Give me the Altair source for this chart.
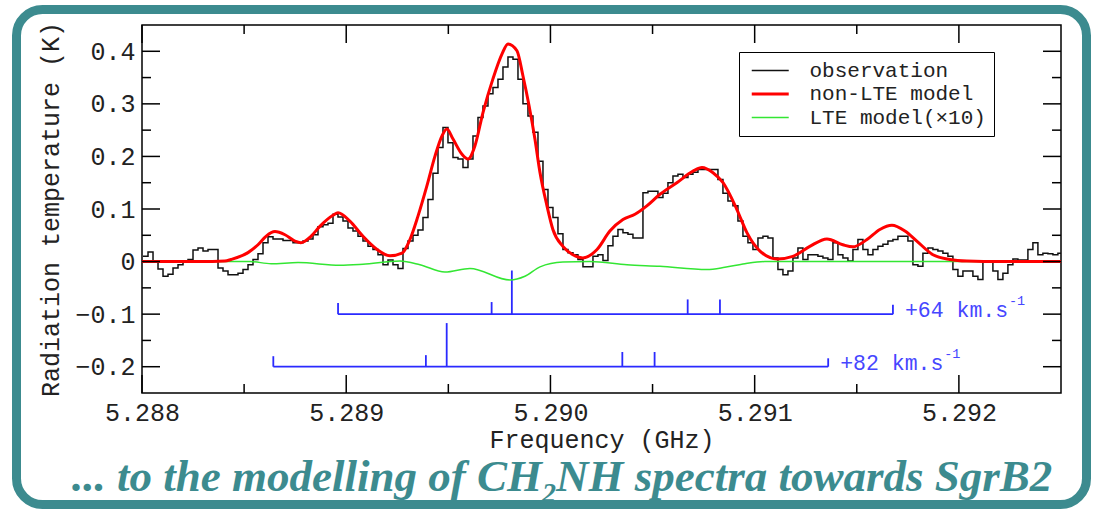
import altair as alt
import pandas as pd

# ---------------- data ----------------
FREQ_START = 5.288005          # GHz, left edge of first channel
CHANNEL_WIDTH = 0.00002448     # GHz
OBS = [0.010, 0.018, 0.001, -0.014, -0.028, -0.024, -0.012, -0.006, 0.001, 0.004,
       0.022, 0.026, 0.020, 0.023, 0.023, -0.012, -0.018, -0.025, -0.025, -0.022,
       -0.015, -0.006, 0.004, 0.015, 0.036, 0.047, 0.043, 0.043, 0.040, 0.040,
       0.036, 0.036, 0.039, 0.043, 0.051, 0.066, 0.070, 0.073, 0.090, 0.085,
       0.077, 0.064, 0.058, 0.048, 0.039, 0.029, 0.023, 0.013, -0.006, 0.003,
       -0.006, -0.013, 0.025, 0.039, 0.050, 0.060, 0.084, 0.118, 0.168, 0.217,
       0.255, 0.226, 0.198, 0.195, 0.179, 0.195, 0.239, 0.274, 0.296, 0.319,
       0.331, 0.347, 0.370, 0.389, 0.385, 0.347, 0.300, 0.277, 0.246, 0.191,
       0.137, 0.103, 0.084, 0.053, 0.023, 0.017, 0.013, 0.004, -0.010, -0.010,
       0.010, 0.013, 0.002, 0.030, 0.048, 0.061, 0.055, 0.052, 0.045, 0.045,
       0.131, 0.134, 0.134, 0.122, 0.130, 0.150, 0.163, 0.166, 0.160, 0.166,
       0.170, 0.175, 0.175, 0.175, 0.175, 0.156, 0.130, 0.115, 0.106, 0.077,
       0.048, 0.036, 0.023, 0.045, 0.048, 0.045, 0.007, -0.015, -0.025, -0.018,
       0.007, 0.026, 0.004, 0.013, 0.013, 0.010, 0.007, 0.004, 0.036, 0.013,
       0.007, 0.001, 0.023, 0.042, 0.023, 0.013, 0.023, 0.029, 0.033, 0.039,
       0.042, 0.048, 0.048, 0.039, -0.006, -0.009, 0.016, 0.026, 0.023, 0.020,
       0.016, 0.010, -0.015, -0.028, -0.018, -0.018, -0.028, -0.034, 0.001, 0.001,
       -0.018, -0.034, -0.022, -0.006, 0.005, 0.003, 0.003, 0.023, 0.036, 0.013,
       0.016, 0.015, 0.013, 0.016]

MODEL_FREQ = [5.288000, 5.288284, 5.288406, 5.288436, 5.288519, 5.288568, 5.288607,
              5.288651, 5.288700, 5.288749, 5.288778, 5.288827, 5.288871, 5.288935,
              5.288960, 5.289018, 5.289082, 5.289151, 5.289214, 5.289273, 5.289312,
              5.289351, 5.289395, 5.289435, 5.289469, 5.289493, 5.289523, 5.289567,
              5.289596, 5.289630, 5.289670, 5.289718, 5.289763, 5.289792, 5.289836,
              5.289865, 5.289924, 5.289949, 5.289983, 5.290012, 5.290061, 5.290110,
              5.290159, 5.290228, 5.290291, 5.290355, 5.290414, 5.290472, 5.290536,
              5.290619, 5.290698, 5.290742, 5.290796, 5.290845, 5.290913, 5.290962,
              5.291026, 5.291109, 5.291187, 5.291270, 5.291354, 5.291432, 5.291481,
              5.291550, 5.291613, 5.291672, 5.291736, 5.291794, 5.291873, 5.291956,
              5.292039, 5.292201, 5.292500]
MODEL_TB = [0.0, 0.0, 0.001, 0.004, 0.017, 0.032, 0.048,
            0.057, 0.051, 0.039, 0.036, 0.048, 0.067, 0.088,
            0.093, 0.077, 0.048, 0.023, 0.011, 0.016, 0.042,
            0.086, 0.144, 0.201, 0.239, 0.252, 0.233, 0.204,
            0.195, 0.220, 0.284, 0.347, 0.395, 0.414, 0.401,
            0.354, 0.233, 0.169, 0.106, 0.061, 0.029, 0.013,
            0.007, 0.023, 0.058, 0.080, 0.090, 0.106, 0.128,
            0.150, 0.172, 0.179, 0.169, 0.150, 0.099, 0.055,
            0.020, 0.005, 0.010, 0.029, 0.043, 0.032, 0.028,
            0.042, 0.061, 0.069, 0.058, 0.039, 0.013, 0.004,
            0.001, 0.0, 0.0]

LTE_FREQ = [5.288000, 5.288529, 5.288632, 5.288764, 5.288969, 5.289082, 5.289263,
            5.289361, 5.289483, 5.289606, 5.289802, 5.289875, 5.289949, 5.290061,
            5.290193, 5.290375, 5.290536, 5.290766, 5.290854, 5.290952, 5.291050,
            5.291711, 5.292500]
LTE_TB = [0.0, 0.0, -0.004, -0.002, -0.007, -0.005, 0.001,
          -0.006, -0.020, -0.013, -0.035, -0.028, -0.010, -0.001,
          0.000, -0.006, -0.009, -0.015, -0.011, -0.004, 0.0,
          0.0, 0.0]

SERIES = ["observation", "non-LTE model", "LTE model(\u00d710)"]
SERIES_COLORS = ["#111111", "#ff0000", "#33e633"]
SERIES_WIDTHS = [1.5, 3.0, 1.5]

VEL_LABELS = ["+64 km.s", "+82 km.s"]
VEL_BASE = [-0.1, -0.2]
VEL_LEFT = [5.288960, 5.288643]
VEL_RIGHT = [5.291677, 5.291360]
LINE_FREQ_64 = [5.288960, 5.289712, 5.289811, 5.290672, 5.290830, 5.291677]
LINE_TOP_64 = [-0.079, -0.077, -0.017, -0.072, -0.072, -0.082]
LINE_FREQ_82 = [5.288643, 5.289390, 5.289492, 5.290352, 5.290510, 5.291360]
LINE_TOP_82 = [-0.180, -0.178, -0.117, -0.172, -0.172, -0.184]

X_MAJOR = [5.288, 5.289, 5.290, 5.291, 5.292]
X_MINOR = [5.2885, 5.2895, 5.2905, 5.2915]
Y_MAJOR = [-0.2, -0.1, 0.0, 0.1, 0.2, 0.3, 0.4]
Y_MINOR = [-0.15, -0.05, 0.05, 0.15, 0.25, 0.35]

TITLE_LEFT = "... to the modelling of CH"
TITLE_SUB = "2"
TITLE_RIGHT = "NH spectra towards SgrB2"

# ---------------- styling ----------------
W, H = 919, 368
MONO = "Liberation Mono"
SERIF = "Liberation Serif"
TEAL = "#3c8b8f"
BLUE = "#2a2aff"
BLUE_TXT = "#4646ff"
INK = "#222222"

xs = alt.Scale(domain=[5.288, 5.2925], nice=False, zero=False)
ys = alt.Scale(domain=[-0.25, 0.45], nice=False, zero=False)

AX_X = alt.Axis(values=X_MAJOR, format=".3f", title="Frequency (GHz)", ticks=False,
                domain=False, grid=False, labelPadding=7, labelFont=MONO,
                labelFontSize=25, labelColor=INK, labelFlush=False,
                titleFont=MONO, titleFontSize=25, titleFontWeight="normal",
                titleColor=INK, titlePadding=2)
AX_Y = alt.Axis(values=Y_MAJOR, title="Radiation temperature (K)", ticks=False,
                domain=False, grid=False, labelPadding=7, labelFont=MONO,
                labelFontSize=25, labelColor=INK, labelFlush=False,
                labelExpr="datum.value == 0 ? '0' : replace(format(datum.value, '.1f'), '-', '\u2212')",
                titleFont=MONO, titleFontSize=25, titleFontWeight="normal",
                titleColor=INK, titlePadding=11)


def X(field):
    return alt.X(field, type="quantitative", scale=xs, axis=AX_X)


def Y(field):
    return alt.Y(field, type="quantitative", scale=ys, axis=AX_Y)


legend = alt.Legend(title=None, orient="none", legendX=597, legendY=27,
                    direction="vertical", strokeColor="black", fillColor="white",
                    padding=8, labelFont=MONO, labelFontSize=21, labelColor=INK,
                    symbolType="M-0.676,0H3.324", symbolSize=342, rowPadding=2,
                    labelOffset=40.5, labelLimit=400)
color_enc = alt.Color("series:N", scale=alt.Scale(domain=SERIES, range=SERIES_COLORS),
                      legend=legend)
width_enc = alt.StrokeWidth("series:N",
                            scale=alt.Scale(type="ordinal", domain=SERIES, range=SERIES_WIDTHS),
                            legend=legend)

# ---------------- tables ----------------
obs_df = pd.DataFrame({
    "freq": [FREQ_START + i * CHANNEL_WIDTH for i in range(len(OBS) + 1)],
    "tb": OBS + [OBS[-1]],
    "series": SERIES[0],
})
model_df = pd.DataFrame({"freq": MODEL_FREQ, "tb": MODEL_TB, "series": SERIES[1]})
lte_df = pd.DataFrame({"freq": LTE_FREQ, "tb": LTE_TB, "series": SERIES[2]})

hbar_df = pd.DataFrame({"f1": VEL_LEFT, "f2": VEL_RIGHT, "v": VEL_BASE, "label": VEL_LABELS})
vt_df = pd.DataFrame({
    "freq": LINE_FREQ_64 + LINE_FREQ_82,
    "top": LINE_TOP_64 + LINE_TOP_82,
    "base": [VEL_BASE[0]] * len(LINE_FREQ_64) + [VEL_BASE[1]] * len(LINE_FREQ_82),
})
one = pd.DataFrame({"a": [0]})

# ---------------- layers ----------------
frame = alt.Chart(one).mark_rect(fill="transparent", stroke=TEAL, strokeWidth=9,
                                 cornerRadius=26).encode(
    x=alt.value(-125.5), x2=alt.value(944.5), y=alt.value(-15.5), y2=alt.value(479.5))

obs = alt.Chart(obs_df).mark_line(interpolate="step-after", clip=True).encode(
    x=X("freq"), y=Y("tb"), color=color_enc, strokeWidth=width_enc)
lte = alt.Chart(lte_df).mark_line(interpolate="monotone", clip=True).encode(
    x=X("freq"), y=Y("tb"), color=color_enc, strokeWidth=width_enc)
model = alt.Chart(model_df).mark_line(interpolate="monotone", clip=True).encode(
    x=X("freq"), y=Y("tb"), color=color_enc, strokeWidth=width_enc)

hbars = alt.Chart(hbar_df).mark_rule(color=BLUE, strokeWidth=1.8).encode(
    x=X("f1"), x2="f2", y=Y("v"))
vticks = alt.Chart(vt_df).mark_rule(color=BLUE, strokeWidth=1.8).encode(
    x=X("freq"), y=Y("base"), y2="top")
vlabels = alt.Chart(hbar_df).mark_text(align="left", baseline="alphabetic", dx=12, dy=3,
                                       font=MONO, fontSize=21.5, color=BLUE_TXT).encode(
    x=X("f2"), y=Y("v"), text="label:N")
vsup = alt.Chart(hbar_df).mark_text(align="left", baseline="alphabetic", dx=116, dy=-9,
                                    font=MONO, fontSize=13.5, color=BLUE_TXT, text="-1").encode(
    x=X("f2"), y=Y("v"))


def tick_layer(vals, axis, start, end):
    df = pd.DataFrame({"t": vals})
    if axis == "x":
        enc = dict(x=X("t"), y=alt.value(start), y2=alt.value(end))
    else:
        enc = dict(y=Y("t"), x=alt.value(start), x2=alt.value(end))
    return alt.Chart(df).mark_rule(color="black", strokeWidth=1.5).encode(**enc)


ticks = [
    tick_layer(X_MAJOR, "x", H, H - 18), tick_layer(X_MINOR, "x", H, H - 9),
    tick_layer(X_MAJOR, "x", 0, 18), tick_layer(X_MINOR, "x", 0, 9),
    tick_layer(Y_MAJOR, "y", 0, 18), tick_layer(Y_MINOR, "y", 0, 9),
    tick_layer(Y_MAJOR, "y", W, W - 18), tick_layer(Y_MINOR, "y", W, W - 9),
]

title_style = dict(font=SERIF, fontStyle="italic", fontWeight="bold", color=TEAL,
                   baseline="alphabetic")
t_left = alt.Chart(one).mark_text(text=TITLE_LEFT, fontSize=45, align="right",
                                  **title_style).encode(x=alt.value(400), y=alt.value(466))
t_sub = alt.Chart(one).mark_text(text=TITLE_SUB, fontSize=28, align="left",
                                 **title_style).encode(x=alt.value(400), y=alt.value(477))
t_right = alt.Chart(one).mark_text(text=TITLE_RIGHT, fontSize=45, align="left",
                                   **title_style).encode(x=alt.value(414), y=alt.value(466))

chart = alt.layer(
    frame, hbars, vticks, vlabels, vsup, obs, lte, model, *ticks, t_left, t_sub, t_right
).properties(
    width=W, height=H,
    autosize=alt.AutoSizeParams(type="none"),
    padding={"left": 142, "top": 25, "right": 41, "bottom": 117},
    background="white",
).configure_view(stroke="black", strokeWidth=1.5)

chart.save("out.html", embed_options={"renderer": "svg", "actions": False})
